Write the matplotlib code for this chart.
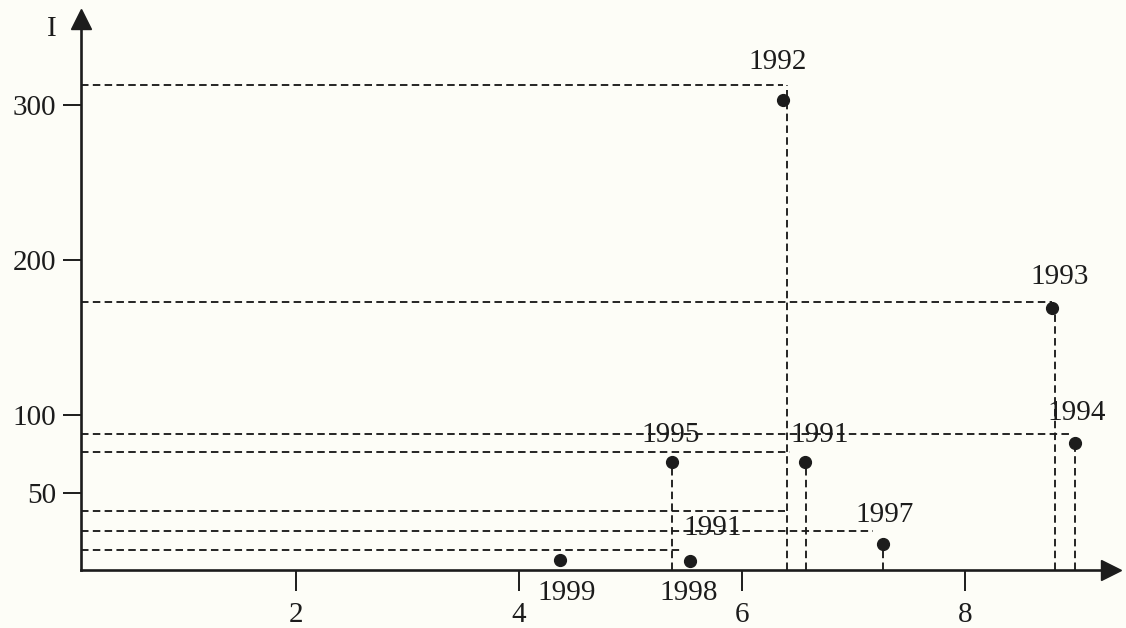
import matplotlib.pyplot as plt

# points (x, I)
pt_x = [6.37, 8.78, 8.99, 5.37, 6.57, 7.27, 4.37, 5.54]
pt_y = [303, 169, 82, 70, 70, 17, 6.5, 6]

# year labels (text, x, I)
lab_text = ['1992', '1993', '1994', '1997', '1995', '1991', '1991', '1999', '1998']
lab_x = [6.32, 8.85, 9.00, 7.28, 5.36, 6.70, 5.74, 4.43, 5.52]
lab_y = [328, 189, 101, 35.5, 87, 87, 27, -15, -15]

# horizontal dashed guides: level and where they stop
h_level = [313, 173, 88, 76, 38, 25, 13]
h_end = [6.37, 8.78, 8.94, 6.43, 6.39, 7.18, 5.45]

# vertical dashed guides: x and top
v_x = [6.405, 6.577, 5.375, 7.27, 8.81, 8.99]
v_top = [313, 70, 70, 17, 169, 82]

x_ticks = [2, 4, 6, 8]
y_ticks = [50, 100, 200, 300]

ink = '#1c1c1c'
plt.rcParams['font.family'] = ['Liberation Serif', 'DejaVu Serif']

fig = plt.figure(figsize=(11.26, 6.28), dpi=100, facecolor='#fdfdf7')
ax = fig.add_axes([81 / 1126, 58 / 628, 1030 / 1126, 551 / 628])
ax.set_facecolor('#fdfdf7')
ax.set_xlim(0.076, 9.31)
ax.set_ylim(0, 355.5)

dash = (0, (4, 2.3))
for lvl, xe in zip(h_level, h_end):
    ax.plot([0.076, xe], [lvl, lvl], color=ink, lw=1.35, ls=dash)
for xv, yt in zip(v_x, v_top):
    ax.plot([xv, xv], [0, yt], color=ink, lw=1.35, ls=dash)

ax.plot(pt_x, pt_y, 'o', color=ink, ms=8.5, clip_on=False, zorder=3)

for t, x, y in zip(lab_text, lab_x, lab_y):
    ax.text(x, y, t, ha='center', va='center', fontsize=21, color=ink)

for s in ['top', 'right']:
    ax.spines[s].set_visible(False)
for s in ['left', 'bottom']:
    ax.spines[s].set_color(ink)
    ax.spines[s].set_linewidth(1.9)

# arrow heads on the axes
ax.plot(1, 0, '>', color=ink, ms=15, transform=ax.transAxes, clip_on=False)
ax.plot(0, 1, '^', color=ink, ms=15, transform=ax.transAxes, clip_on=False)

ax.set_xticks(x_ticks)
ax.set_yticks(y_ticks)
ax.tick_params(axis='x', direction='out', length=15, width=1.4, pad=8,
               labelsize=21, colors=ink)
ax.tick_params(axis='y', direction='out', length=13, width=1.4, pad=5,
               labelsize=21, colors=ink)

ax.text(-0.028, 0.982, 'I', transform=ax.transAxes, ha='center', va='center',
        fontsize=21, color=ink)

fig.savefig('out.png', dpi=100, facecolor=fig.get_facecolor())
